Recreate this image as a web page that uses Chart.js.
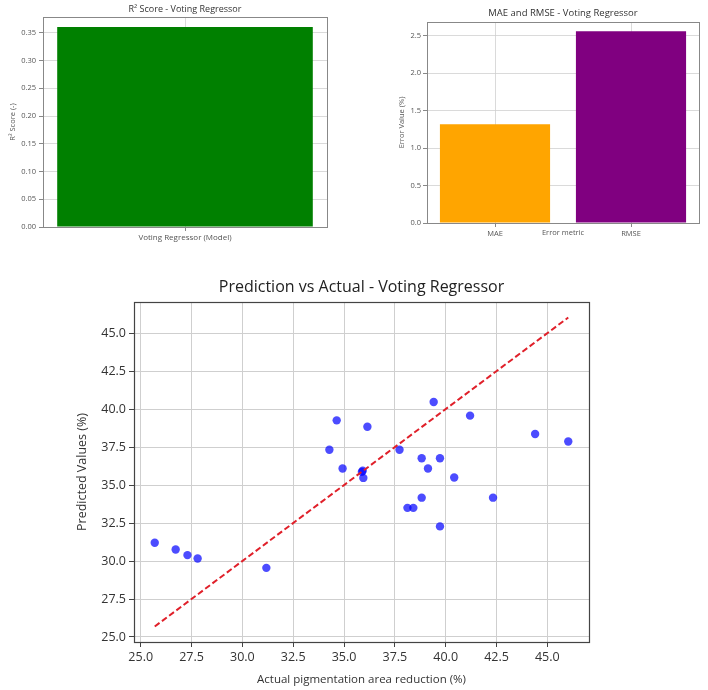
<!DOCTYPE html>
<html>
<head>
<meta charset="utf-8">
<title>Voting Regressor metrics</title>
<script src="https://cdn.jsdelivr.net/npm/chart.js@4.4.1/dist/chart.umd.min.js"></script>
<style>
    body { margin: 0; background: #fff; width: 708px; height: 690px; position: relative; overflow: hidden; }
    .panel { position: absolute; }
</style>
</head>
<body>
<div class="panel" style="left:0;top:0"><canvas id="r2Chart" width="340" height="250"></canvas></div>
<div class="panel" style="left:360px;top:0"><canvas id="errorChart" width="348" height="250"></canvas></div>
<div class="panel" style="left:0;top:270px"><canvas id="scatterChart" width="708" height="420"></canvas></div>
<script>
// ---- data ----
const r2Labels = ['Voting Regressor (Model)'];
const r2Values = [0.3605];
const r2Ticks = [0, 0.05, 0.10, 0.15, 0.20, 0.25, 0.30, 0.35];

const errorLabels = ['MAE', 'RMSE'];
const errorValues = [1.318, 2.558];
const errorColors = ['#ffa500', '#800080'];
const errorTicks = [0, 0.5, 1.0, 1.5, 2.0, 2.5];

const actualValues = [
    25.69, 26.72, 27.30, 27.80, 31.18,
    34.64, 36.15, 34.28, 34.93, 35.88, 35.92, 35.95,
    39.41, 41.20, 44.40, 46.03, 37.73, 38.82, 39.72, 39.13,
    40.42, 38.82, 42.33, 38.12, 38.41, 39.72
];
const predictedValues = [
    31.20, 30.76, 30.39, 30.17, 29.55,
    39.26, 38.84, 37.32, 36.09, 35.87, 35.95, 35.47,
    40.47, 39.57, 38.36, 37.87, 37.32, 36.77, 36.77, 36.09,
    35.50, 34.17, 34.17, 33.50, 33.50, 32.28
];
const scatterTicks = [25.0, 27.5, 30.0, 32.5, 35.0, 37.5, 40.0, 42.5, 45.0];

const FONT = "'Open Sans', 'DejaVu Sans', sans-serif";

// box round the plot area, like matplotlib spines
const framePlugin = {
    id: 'frame',
    afterDraw(chart, args, opts) {
        const { ctx, chartArea: a } = chart;
        ctx.save();
        ctx.strokeStyle = opts.color || '#444';
        ctx.lineWidth = opts.width || 1;
        ctx.strokeRect(Math.round(a.left) + 0.5, Math.round(a.top) + 0.5,
            Math.round(a.right - a.left), Math.round(a.bottom - a.top));
        ctx.restore();
    }
};

function fixedTicks(list) {
    return scale => { scale.ticks = list.map(v => ({ value: v })); };
}

/**
 * R² bar chart (top left)
 */
function initR2Chart() {
    new Chart(document.getElementById('r2Chart'), {
        type: 'bar',
        data: {
            labels: r2Labels,
            datasets: [{
                data: r2Values,
                backgroundColor: '#008000',
                categoryPercentage: 1,
                barPercentage: 0.9
            }]
        },
        options: {
            responsive: false,
            animation: false,
            layout: { padding: { left: 8, right: 13, top: 0, bottom: 0 } },
            plugins: {
                legend: { display: false },
                tooltip: { enabled: false },
                title: {
                    display: true,
                    text: 'R² Score - Voting Regressor',
                    fullSize: false,
                    color: '#333',
                    font: { family: FONT, size: 9, weight: 'normal' },
                    padding: { top: 4, bottom: 2.2 }
                },
                frame: { color: '#888', width: 1 }
            },
            scales: {
                x: {
                    z: 1,
                    afterFit: s => { s.height = 23; },
                    grid: { offset: false, color: 'rgba(205,205,205,0.75)', tickLength: 4, tickColor: '#888' },
                    border: { display: false },
                    ticks: { color: '#555', padding: 2, font: { family: FONT, size: 8 } }
                },
                y: {
                    z: 1,
                    min: 0,
                    max: 0.3785,
                    afterBuildTicks: fixedTicks(r2Ticks),
                    afterFit: s => { s.width = 35; },
                    grid: { color: 'rgba(205,205,205,0.75)', tickLength: 4, tickColor: '#888' },
                    border: { display: false },
                    ticks: {
                        color: '#555', padding: 3,
                        font: { family: FONT, size: 7.5 },
                        callback: v => v.toFixed(2)
                    },
                    title: {
                        display: true, text: 'R² Score (-)', color: '#555', padding: 0,
                        font: { family: FONT, size: 7.5 }
                    }
                }
            }
        },
        plugins: [framePlugin]
    });
}

/**
 * MAE / RMSE bar chart (top right)
 */
function initErrorChart() {
    new Chart(document.getElementById('errorChart'), {
        type: 'bar',
        data: {
            labels: errorLabels,
            datasets: [{
                data: errorValues,
                backgroundColor: errorColors,
                categoryPercentage: 1,
                barPercentage: 0.81
            }]
        },
        options: {
            responsive: false,
            animation: false,
            layout: { padding: { left: 37.5, right: 9, top: 0, bottom: 0 } },
            plugins: {
                legend: { display: false },
                tooltip: { enabled: false },
                title: {
                    display: true,
                    text: 'MAE and RMSE - Voting Regressor',
                    fullSize: false,
                    color: '#333',
                    font: { family: FONT, size: 9.5, weight: 'normal' },
                    padding: { top: 8, bottom: 2.6 }
                },
                frame: { color: '#888', width: 1 }
            },
            scales: {
                x: {
                    z: 1,
                    afterFit: s => { s.height = 27; },
                    grid: { offset: false, color: 'rgba(205,205,205,0.75)', tickLength: 4, tickColor: '#888' },
                    border: { display: false },
                    ticks: { color: '#555', padding: 2, font: { family: FONT, size: 7.5 } },
                    title: {
                        display: true, text: 'Error metric', color: '#555',
                        padding: { top: 0, bottom: 13 },
                        font: { family: FONT, size: 7.5 }
                    }
                },
                y: {
                    z: 1,
                    min: 0,
                    max: 2.68,
                    afterBuildTicks: fixedTicks(errorTicks),
                    afterFit: s => { s.width = 29.5; },
                    grid: { color: 'rgba(205,205,205,0.75)', tickLength: 4, tickColor: '#888' },
                    border: { display: false },
                    ticks: {
                        color: '#555', padding: 2,
                        font: { family: FONT, size: 7.5 },
                        callback: v => v.toFixed(1)
                    },
                    title: {
                        display: true, text: 'Error Value (%)', color: '#555', padding: 0,
                        font: { family: FONT, size: 7.5 }
                    }
                }
            }
        },
        plugins: [framePlugin]
    });
}

/**
 * Prediction vs actual scatter (bottom)
 */
function initScatterChart() {
    const points = actualValues.map((a, i) => ({ x: a, y: predictedValues[i] }));
    const lo = Math.min(...actualValues);
    const hi = Math.max(...actualValues);
    const axisMin = 24.67, axisMax = 47.05;

    const axisCommon = {
        min: axisMin,
        max: axisMax,
        afterBuildTicks: fixedTicks(scatterTicks),
        grid: { color: '#cfcfcf', tickLength: 5, tickColor: '#444' },
        border: { display: false },
        ticks: {
            color: '#333', padding: 3,
            font: { family: FONT, size: 12.5 },
            callback: v => v.toFixed(1)
        }
    };

    new Chart(document.getElementById('scatterChart'), {
        type: 'scatter',
        data: {
            datasets: [
                {
                    data: [{ x: lo, y: lo }, { x: hi, y: hi }],
                    showLine: true,
                    borderColor: '#e0202a',
                    borderWidth: 2,
                    borderDash: [6, 3],
                    pointRadius: 0,
                    order: 0
                },
                {
                    data: points,
                    backgroundColor: 'rgba(0, 0, 255, 0.7)',
                    borderWidth: 0,
                    pointRadius: 4.2,
                    order: 1
                }
            ]
        },
        options: {
            responsive: false,
            animation: false,
            layout: { padding: { left: 72, right: 119, top: 0, bottom: 3 } },
            plugins: {
                legend: { display: false },
                tooltip: { enabled: false },
                title: {
                    display: true,
                    text: 'Prediction vs Actual - Voting Regressor',
                    fullSize: false,
                    color: '#222',
                    font: { family: FONT, size: 16, weight: 'normal' },
                    padding: { top: 8, bottom: 4.8 }
                },
                frame: { color: '#444', width: 1.2 }
            },
            scales: {
                x: {
                    ...axisCommon,
                    afterFit: s => { s.height = 45; },
                    title: {
                        display: true, text: 'Actual pigmentation area reduction (%)', color: '#333',
                        padding: { top: 0, bottom: 0 },
                        font: { family: FONT, size: 11.5 }
                    }
                },
                y: {
                    ...axisCommon,
                    afterFit: s => { s.width = 62; },
                    title: {
                        display: true, text: 'Predicted Values (%)', color: '#333',
                        padding: 3,
                        font: { family: FONT, size: 12.5 }
                    }
                }
            }
        },
        plugins: [framePlugin]
    });
}

initR2Chart();
initErrorChart();
initScatterChart();
</script>
</body>
</html>
